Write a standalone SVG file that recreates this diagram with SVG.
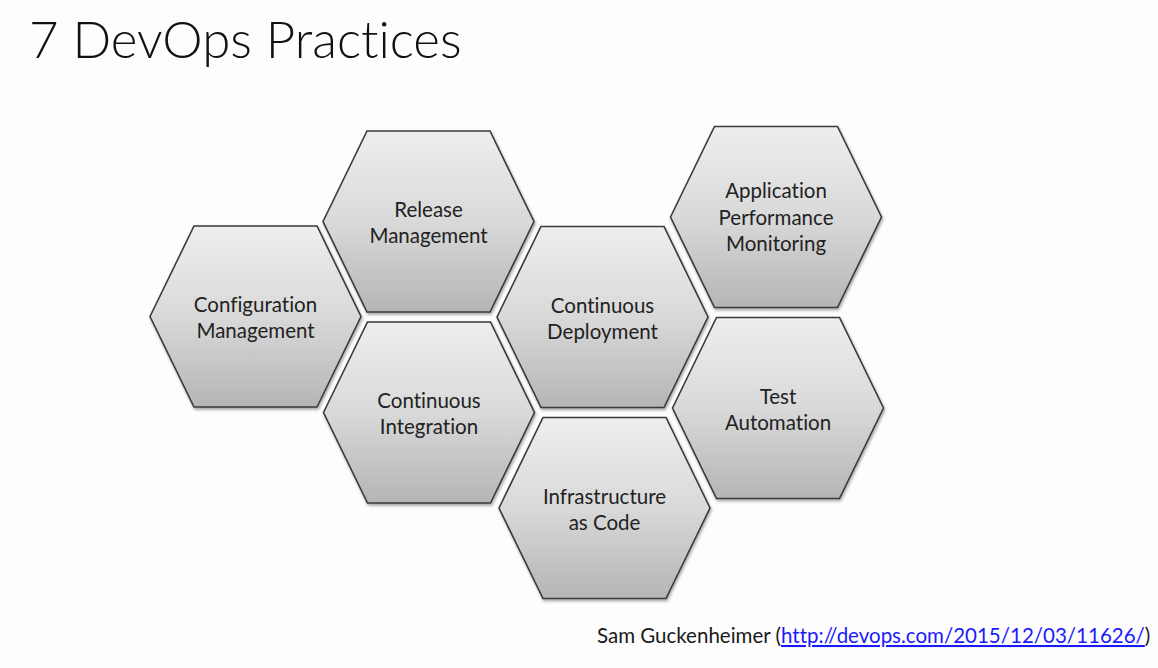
<svg xmlns="http://www.w3.org/2000/svg" width="1158" height="668" viewBox="0 0 1158 668">
  <defs>
    <linearGradient id="hexFill" x1="0" y1="0" x2="0" y2="1">
      <stop offset="0" stop-color="#eeeeee"/>
      <stop offset="0.5" stop-color="#d9d9d9"/>
      <stop offset="1" stop-color="#b5b5b5"/>
    </linearGradient>
    <filter id="shade" x="-10%" y="-10%" width="120%" height="125%">
      <feGaussianBlur in="SourceAlpha" stdDeviation="1.5"/>
      <feOffset dx="1" dy="2" result="b"/>
      <feComponentTransfer><feFuncA type="linear" slope="0.35"/></feComponentTransfer>
      <feMerge><feMergeNode/><feMergeNode in="SourceGraphic"/></feMerge>
    </filter>
    <polygon id="hex" points="-105.5,0 -61.5,-90.5 61.5,-90.5 105.5,0 61.5,90.5 -61.5,90.5"/>
  </defs>
  <style>
    text { font-variant-ligatures: none; }
    .hex { fill: url(#hexFill); stroke: #3a3a3a; stroke-width: 1.6; filter: url(#shade); }
    .lbl { font-family: Lato, "Open Sans", "Liberation Sans", sans-serif; font-size: 20.5px; fill: #222222; text-anchor: middle; }
    .title { font-family: Lato, "Open Sans", "Liberation Sans", sans-serif; font-weight: 300; font-size: 51px; fill: #111111; }
    .credit { font-family: Lato, "Open Sans", "Liberation Sans", sans-serif; font-size: 20.5px; fill: #1a1a1a; }
    .link { fill: #1a1aff; text-decoration: underline; }
  </style>

  <rect width="1158" height="668" fill="#fdfdfd"/>

  <text class="title" x="29" y="58">7 DevOps Practices</text>

  <g id="config-management" transform="translate(255.5,316.5)">
    <use href="#hex" class="hex"/>
    <text class="lbl" y="-4.5">Configuration</text>
    <text class="lbl" y="21.5">Management</text>
  </g>

  <g id="release-management" transform="translate(428.5,221.5)">
    <use href="#hex" class="hex"/>
    <text class="lbl" y="-4.5">Release</text>
    <text class="lbl" y="21.5">Management</text>
  </g>

  <g id="continuous-integration" transform="translate(429,412.5)">
    <use href="#hex" class="hex"/>
    <text class="lbl" y="-4.5">Continuous</text>
    <text class="lbl" y="21.5">Integration</text>
  </g>

  <g id="continuous-deployment" transform="translate(602.5,317)">
    <use href="#hex" class="hex"/>
    <text class="lbl" y="-4.5">Continuous</text>
    <text class="lbl" y="21.5">Deployment</text>
  </g>

  <g id="infrastructure-as-code" transform="translate(604.5,508)">
    <use href="#hex" class="hex"/>
    <text class="lbl" y="-4.5">Infrastructure</text>
    <text class="lbl" y="21.5">as Code</text>
  </g>

  <g id="app-performance-monitoring" transform="translate(776,217)">
    <use href="#hex" class="hex"/>
    <text class="lbl" y="-19">Application</text>
    <text class="lbl" y="7.5">Performance</text>
    <text class="lbl" y="34">Monitoring</text>
  </g>

  <g id="test-automation" transform="translate(778,408)">
    <use href="#hex" class="hex"/>
    <text class="lbl" y="-4.5">Test</text>
    <text class="lbl" y="21.5">Automation</text>
  </g>

  <g id="connectors"/>

  <text class="credit" x="597" y="643">Sam Guckenheimer (<tspan class="link">http://devops.com/2015/12/03/11626/</tspan>)</text>
</svg>
